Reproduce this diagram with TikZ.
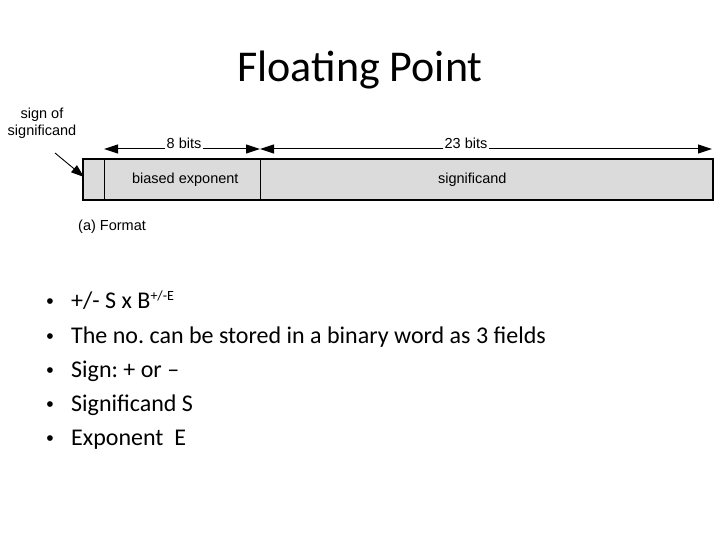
\documentclass[tikz,border=0pt]{standalone}
\usepackage{fontspec}
\setmainfont{Carlito}
\newfontfamily\arialf{Liberation Sans}
\usetikzlibrary{arrows.meta}
\begin{document}
\frenchspacing
\begin{tikzpicture}[x=1pt,y=-1pt,
  dlabel/.style={font=\arialf\fontsize{14.5}{17}\selectfont, inner sep=0pt},
  bitlabel/.style={dlabel, fill=white, inner xsep=1pt, anchor=base},
  field/.style={draw=black, line width=0.6pt, fill=black!14},
  dimarrow/.style={line width=1pt, -{Triangle[length=14pt,width=9pt,fill=black]}},
  bullettext/.style={font=\fontsize{24}{28}\selectfont, anchor=base west, inner sep=0pt},
  bulletdot/.style={font=\arialf\fontsize{21}{28}\selectfont, anchor=base, inner sep=0pt}]
\useasboundingbox (0,0) rectangle (720,540);
% title
\node[font=\fontsize{44}{50}\selectfont, anchor=base, inner sep=0pt] (title) at (360,82) {Floating Point};
% fields
\node[field, minimum width=21pt, minimum height=40pt, anchor=north west, inner sep=0pt] (sgn) at (83,159) {};
\node[field, minimum width=156pt, minimum height=40pt, anchor=north west, inner sep=0pt] (exp) at (104,159) {};
\node[field, minimum width=452pt, minimum height=40pt, anchor=north west, inner sep=0pt] (sig) at (260,159) {};
\draw[line width=2pt] (sgn.north west) rectangle (sig.south east);
\node[dlabel] at ([xshift=3pt]exp.center) {biased exponent};
\node[dlabel] at ([xshift=-14pt]sig.center) {significand};
% dimension arrows
\coordinate (a8l) at (104,149);
\coordinate (a8r) at (260,149);
\coordinate (a23r) at (712,149);
\node[bitlabel] (l8) at (184,149) {8 bits};
\node[bitlabel] (l23) at (466,149) {23 bits};
\draw[dimarrow] (l8.base west) -- (a8l);
\draw[dimarrow] (l8.base east) -- (a8r);
\draw[dimarrow] (l23.base west) -- (a8r);
\draw[dimarrow] (l23.base east) -- (a23r);
% sign label
\node[dlabel, align=center, anchor=north] (signlbl) at (42,108) {sign of\\significand};
\coordinate (signtip) at (84,177);
\draw[line width=0.9pt, -{Triangle[length=13pt,width=9pt,fill=black]}] (55,153) -- (signtip);
\node[dlabel, anchor=base west] (fmt) at (78,230) {(a) Format};
% bullets
\foreach \y/\t [count=\i] in {308/{+/- S x B\raisebox{8pt}{\fontsize{14}{14}\selectfont +/-E}},
  343/{The no. can be stored in a binary word as 3 fields},
  377/{Sign: + or –},
  411/{Significand S},
  445/{Exponent\ \ E}}{
  \node[bulletdot] (b\i) at (50,\y) {•};
  \node[bullettext] (t\i) at (71,\y) {\t};
}
\end{tikzpicture}
\end{document}
